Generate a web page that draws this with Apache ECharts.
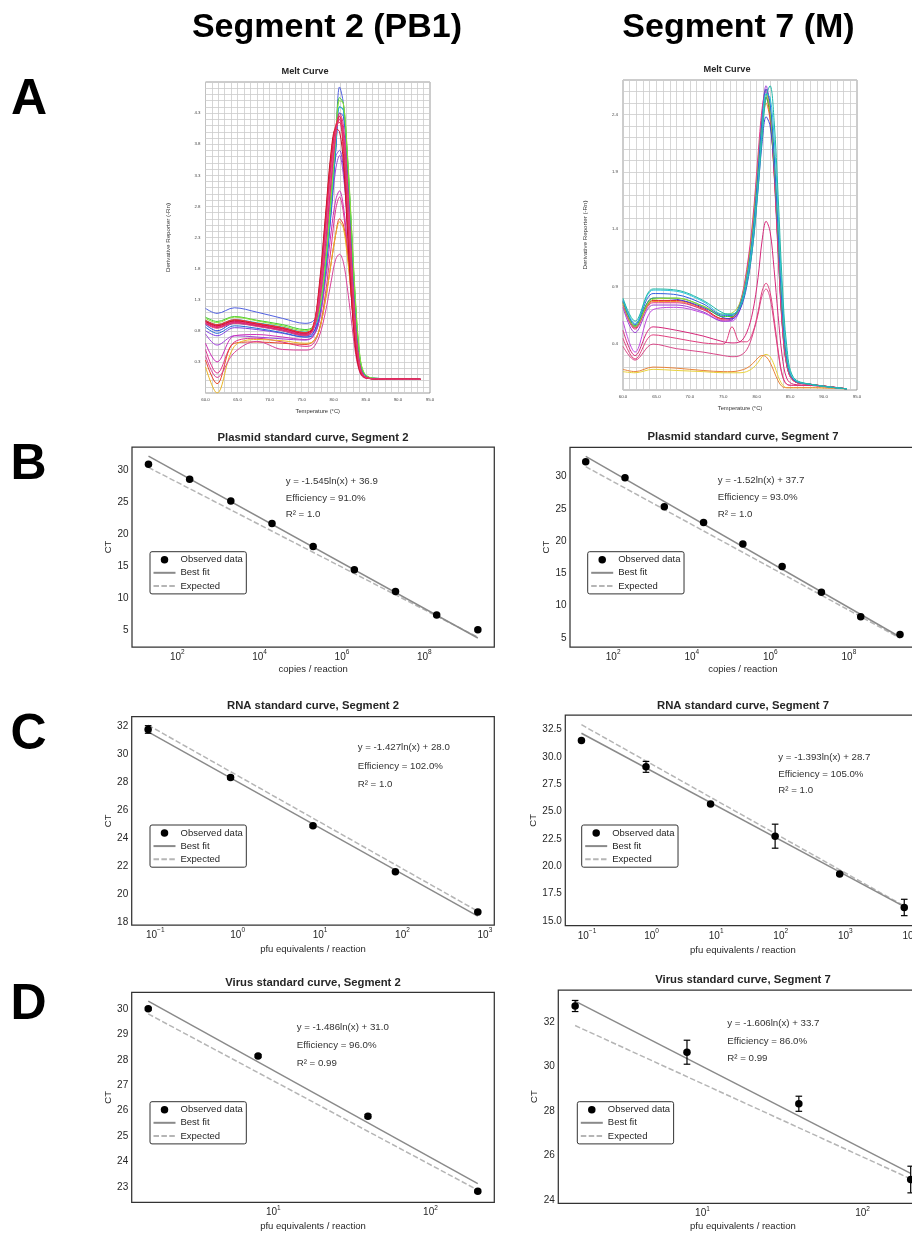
<!DOCTYPE html>
<html><head><meta charset="utf-8">
<script src="https://cdn.jsdelivr.net/npm/echarts@6/dist/echarts.min.js"></script>
<style>html,body{margin:0;padding:0;background:#fff}#c{width:912px;height:1233px}</style>
</head><body><div id="c"></div>
<script>
// ---------------- DATA ----------------
// Melt curves, Segment 2 (PB1)
const meltTempPB1 = [60, 61.8, 64.5, 68, 72, 75.5, 76.7, 77.7, 78.7, 79.6, 80.3, 80.9, 81.5, 82.1, 82.7, 83.3, 83.9, 84.6, 86, 93.5];
const meltCurvesPB1 = [
  [0.80,0.72,0.85,0.82,0.76,0.70,0.74,1.10,2.00,3.00,3.60,3.70,3.40,2.60,1.70,0.80,0.30,0.08,0.03,0.02],
  [0.75,0.57,0.72,0.70,0.67,0.65,0.70,1.00,1.80,2.70,3.40,3.62,3.30,2.60,1.70,0.85,0.30,0.08,0.03,0.02],
  [1.16,1.08,1.17,1.10,1.00,0.92,0.95,1.10,1.85,2.90,3.90,4.72,4.45,3.50,2.30,1.20,0.45,0.12,0.04,0.02],
  [0.90,0.80,0.92,0.88,0.80,0.72,0.76,1.00,1.75,2.80,3.70,4.30,4.25,3.50,2.40,1.30,0.50,0.12,0.03,0.02],
  [0.86,0.76,0.88,0.84,0.77,0.70,0.72,0.95,1.70,2.75,3.70,4.40,4.35,3.60,2.50,1.35,0.50,0.12,0.03,0.02],
  [0.97,0.90,0.98,0.93,0.86,0.78,0.82,1.05,1.80,2.85,3.80,4.40,4.35,3.60,2.50,1.35,0.52,0.13,0.04,0.02],
  [1.02,0.95,1.03,0.97,0.90,0.82,0.86,1.10,1.90,3.00,3.95,4.55,4.45,3.65,2.55,1.40,0.55,0.14,0.04,0.02],
  [1.00,0.93,1.02,0.96,0.88,0.80,0.85,1.10,1.90,2.95,3.90,4.50,4.45,3.70,2.60,1.45,0.58,0.15,0.04,0.02],
  [0.60,0.30,0.72,0.74,0.70,0.66,0.70,0.95,1.60,2.40,2.90,3.05,2.80,2.20,1.40,0.70,0.25,0.07,0.03,0.02],
  [0.50,0.12,0.62,0.68,0.62,0.55,0.58,0.80,1.40,2.15,2.75,2.95,2.70,2.10,1.40,0.70,0.25,0.07,0.03,0.02],
  [0.33,-0.05,0.60,0.62,0.60,0.58,0.62,0.80,1.30,1.90,2.35,2.60,2.50,2.10,1.50,0.80,0.30,0.08,0.03,0.02],
  [0.22,-0.20,0.55,0.66,0.64,0.60,0.62,0.80,1.30,1.90,2.35,2.55,2.45,2.00,1.40,0.75,0.28,0.08,0.03,0.02],
  [0.40,0.05,0.45,0.63,0.50,0.49,0.52,0.70,1.10,1.60,1.95,2.03,1.90,1.50,1.00,0.50,0.18,0.05,0.03,0.02],
  [0.94,0.87,0.95,0.90,0.83,0.75,0.81,1.25,2.20,3.25,3.95,4.25,4.00,3.10,2.00,0.95,0.33,0.09,0.03,0.02],
  [0.93,0.86,0.94,0.89,0.82,0.74,0.80,1.20,2.15,3.20,3.95,4.30,4.10,3.25,2.10,1.00,0.35,0.09,0.03,0.02],
  [0.96,0.89,0.97,0.92,0.85,0.77,0.84,1.45,2.60,3.65,4.10,4.15,3.65,2.55,1.45,0.62,0.22,0.07,0.03,0.02],
  [0.95,0.88,0.96,0.91,0.84,0.76,0.83,1.50,2.65,3.70,4.05,4.00,3.50,2.45,1.40,0.60,0.20,0.06,0.03,0.02],
  [0.97,0.90,0.98,0.92,0.85,0.77,0.85,1.40,2.50,3.55,4.10,4.25,3.80,2.75,1.65,0.75,0.26,0.07,0.03,0.02],
  [0.92,0.85,0.93,0.88,0.81,0.73,0.80,1.35,2.45,3.50,4.05,4.20,3.85,2.90,1.80,0.85,0.30,0.08,0.03,0.02],
  [0.91,0.84,0.92,0.87,0.80,0.72,0.79,1.30,2.35,3.40,4.00,4.20,3.90,3.00,1.90,0.90,0.32,0.08,0.03,0.02]
];
// Melt curves, Segment 7 (M)
const meltTempM = [60, 61.8, 64.5, 68, 72, 75, 76.3, 77.5, 78.5, 79.4, 80.2, 80.8, 81.4, 82, 82.6, 83.2, 83.8, 84.5, 85.5, 88, 93.5];
const meltCurvesM = [
  [0.16,0.15,0.18,0.17,0.16,0.15,0.15,0.15,0.16,0.19,0.24,0.29,0.31,0.29,0.22,0.12,0.05,0.02,0.02,0.02,0.01],
  [0.18,0.16,0.20,0.19,0.17,0.16,0.16,0.17,0.19,0.23,0.28,0.30,0.29,0.24,0.16,0.08,0.03,0.02,0.02,0.02,0.01],
  [0.38,0.26,0.40,0.36,0.33,0.30,0.29,0.30,0.35,0.48,0.66,0.82,0.88,0.80,0.58,0.33,0.13,0.05,0.04,0.04,0.01],
  [0.45,0.27,0.48,0.45,0.41,0.40,0.55,0.42,0.42,0.50,0.68,0.86,0.93,0.85,0.62,0.35,0.14,0.05,0.04,0.04,0.01],
  [0.52,0.30,0.55,0.52,0.47,0.42,0.41,0.42,0.50,0.68,0.98,1.30,1.47,1.38,1.05,0.65,0.30,0.10,0.05,0.04,0.01],
  [0.60,0.33,0.70,0.72,0.67,0.60,0.60,0.70,0.95,1.35,1.90,2.35,2.60,2.42,1.90,1.20,0.58,0.21,0.08,0.05,0.01],
  [0.72,0.50,0.74,0.74,0.68,0.60,0.61,0.73,1.00,1.42,1.98,2.40,2.65,2.45,1.95,1.25,0.60,0.22,0.08,0.05,0.01],
  [0.75,0.55,0.77,0.77,0.70,0.62,0.63,0.74,1.00,1.40,1.90,2.30,2.50,2.35,1.90,1.25,0.62,0.23,0.08,0.05,0.01],
  [0.76,0.54,0.78,0.78,0.71,0.62,0.63,0.75,1.02,1.42,1.95,2.35,2.55,2.38,1.92,1.25,0.60,0.22,0.08,0.05,0.01],
  [0.74,0.53,0.76,0.76,0.70,0.61,0.62,0.76,1.05,1.48,2.05,2.45,2.62,2.40,1.88,1.20,0.57,0.21,0.08,0.05,0.01],
  [0.77,0.55,0.80,0.79,0.72,0.63,0.62,0.70,0.90,1.25,1.75,2.15,2.38,2.30,1.95,1.35,0.70,0.26,0.09,0.05,0.01],
  [0.77,0.56,0.80,0.80,0.73,0.64,0.64,0.73,0.98,1.38,1.90,2.30,2.55,2.42,2.00,1.35,0.70,0.26,0.09,0.05,0.01],
  [0.76,0.55,0.79,0.80,0.73,0.66,0.67,0.76,1.00,1.40,1.95,2.35,2.58,2.45,2.02,1.38,0.70,0.26,0.09,0.05,0.01],
  [0.78,0.57,0.84,0.83,0.75,0.65,0.65,0.74,0.97,1.35,1.90,2.35,2.62,2.50,2.05,1.40,0.72,0.27,0.09,0.05,0.01],
  [0.79,0.58,0.87,0.86,0.77,0.66,0.66,0.73,0.95,1.30,1.80,2.25,2.58,2.55,2.20,1.55,0.85,0.32,0.10,0.05,0.01],
  [0.80,0.60,0.88,0.87,0.78,0.67,0.66,0.72,0.92,1.25,1.75,2.20,2.55,2.65,2.35,1.70,0.95,0.38,0.11,0.05,0.01]
];
// B: plasmid standard curves
const plasmidCopies = [2e1, 2e2, 2e3, 2e4, 2e5, 2e6, 2e7, 2e8, 2e9];
const plasmidCtPB1 = [31.0, 28.65, 25.26, 21.72, 18.13, 14.48, 11.1, 7.4, 5.1];
const plasmidFitPB1 = [32.27, 3.81];
const plasmidExpPB1 = [30.5, 3.93];
const plasmidCtM = [32.32, 29.85, 25.32, 22.89, 19.55, 16.09, 12.07, 8.27, 5.53];
const plasmidFitM = [33.15, 5.15];
const plasmidExpM = [31.55, 4.98];
// C: RNA standard curves
const rnaPfuPB1 = [0.082, 0.82, 8.2, 82, 820];
const rnaCtPB1 = [31.74, 28.32, 24.87, 21.6, 18.73];
const rnaErrPB1 = [0.27, 0.12, 0.1, 0.05, 0.05];
const rnaFitPB1 = [31.57, 18.43];
const rnaExpPB1 = [32.05, 18.78];
const rnaPfuM = [0.082, 0.82, 8.2, 82, 820, 8200];
const rnaCtM = [31.52, 29.1, 25.69, 22.75, 19.28, 16.22];
const rnaErrM = [0.05, 0.5, 0.08, 1.1, 0.1, 0.75];
const rnaFitM = [32.18, 16.3];
const rnaExpM = [32.96, 16.35];
// D: virus standard curves
const virusPfu = [1.6, 8, 40, 200];
const virusCtPB1 = [30.0, 28.15, 25.78, 22.83];
const virusErrPB1 = [0.05, 0.05, 0.07, 0.05];
const virusFitPB1 = [30.3, 23.13];
const virusExpPB1 = [29.8, 22.88];
const virusCtM = [32.73, 30.65, 28.33, 24.92];
const virusErrM = [0.25, 0.54, 0.34, 0.6];
const virusFitM = [32.95, 25.2];
const virusExpM = [31.85, 24.95];
// Text
const headers = ['Segment 2 (PB1)', 'Segment 7 (M)'];
const panelLetters = ['A', 'B', 'C', 'D'];
const legendNames = ['Observed data', 'Best fit', 'Expected'];
const notesPlasmidPB1 = ['y = -1.545ln(x) + 36.9', 'Efficiency = 91.0%', 'R\u00b2 = 1.0'];
const notesPlasmidM = ['y = -1.52ln(x) + 37.7', 'Efficiency = 93.0%', 'R\u00b2 = 1.0'];
const notesRnaPB1 = ['y = -1.427ln(x) + 28.0', 'Efficiency = 102.0%', 'R\u00b2 = 1.0'];
const notesRnaM = ['y = -1.393ln(x) + 28.7', 'Efficiency = 105.0%', 'R\u00b2 = 1.0'];
const notesVirusPB1 = ['y = -1.486ln(x) + 31.0', 'Efficiency = 96.0%', 'R\u00b2 = 0.99'];
const notesVirusM = ['y = -1.606ln(x) + 33.7', 'Efficiency = 86.0%', 'R\u00b2 = 0.99'];

// ---------------- STYLE / LAYOUT ----------------
const FONT = '"Liberation Sans", Arial, Helvetica, sans-serif';
const TXT = '#262626';
const meltColorsPB1 = ['#7b3fe0','#a044d8','#5060e0','#2848e0','#1f6ad8','#22bfd0','#3ccf2e','#8fdc3c','#cc2fb8','#e0338f','#e8452a','#e9b524','#d9439a','#e8178a','#e62a7a','#e0202a','#c8102e','#f0323c','#d81b60','#e0407a'];
const meltColorsM = ['#e8d23a','#e8843a','#d94a8a','#e0407f','#d6287a','#c04be0','#9b3fd6','#f08a24','#e0242a','#e63a8a','#3b3fd9','#2fc43a','#9ad83a','#2f5fe0','#2cc6de','#20b8a8'];

function fmtLog(even) {
  return function (v) {
    const e = Math.log10(v), r = Math.round(e);
    if (Math.abs(e - r) > 1e-4) return '';
    if (even && r % 2 !== 0) return '';
    return '{b|10}{s|' + (r < 0 ? '\u2212' + (-r) : r) + '}';
  };
}
function fmtStep(step, dec, offset) {
  offset = offset || 0;
  return function (v) {
    const q = (v - offset) / step;
    if (Math.abs(q - Math.round(q)) > 1e-6) return '';
    return v.toFixed(dec);
  };
}

const grids = [], xAxes = [], yAxes = [], series = [], legends = [], graphics = [];

function addText(x, y, text, size, weight, align, color) {
  graphics.push({type: 'text', x: x, y: y, silent: true, style: {
    text: text, fontSize: size, fontWeight: weight || 'normal', fontFamily: FONT,
    fill: color || TXT, align: align || 'center', verticalAlign: 'middle',
    textAlign: align || 'center', textVerticalAlign: 'middle'}});
}

// ---- Melt panels ----
function meltPanel(g, temps, curves, colors, yMin, yMax, labelOffset, title, titleX, titleY, nameGapY) {
  const idx = grids.length;
  grids.push({left: g[0], top: g[1], width: g[2], height: g[3], show: true, borderColor: '#808080', borderWidth: 0.8, backgroundColor: '#fff', outerBoundsMode: 'none'});
  xAxes.push({type: 'value', gridIndex: idx, min: 60, max: 95, interval: 1,
    name: 'Temperature (\u00b0C)', nameLocation: 'middle', nameGap: 15.5,
    nameTextStyle: {fontSize: 5.8, fontFamily: FONT, color: '#333'},
    axisLine: {show: false}, axisTick: {show: false},
    axisLabel: {fontSize: 4.4, fontFamily: FONT, color: '#444', margin: 4.5, formatter: fmtStep(5, 1)},
    splitLine: {show: true, lineStyle: {color: '#cbcbcb', width: 0.8}}});
  yAxes.push({type: 'value', gridIndex: idx, min: yMin, max: yMax, interval: 0.1,
    name: 'Derivative Reporter (-Rn)', nameLocation: 'middle', nameGap: nameGapY,
    nameTextStyle: {fontSize: 6.2, fontFamily: FONT, color: '#333'},
    axisLine: {show: false}, axisTick: {show: false},
    axisLabel: {fontSize: 4.4, fontFamily: FONT, color: '#444', margin: 5, showMinLabel: false, showMaxLabel: false,
      formatter: fmtStep(0.5, 1, labelOffset)},
    splitLine: {show: true, lineStyle: {color: '#cbcbcb', width: 0.8}}});
  curves.forEach(function (c, k) {
    series.push({type: 'line', name: 'melt' + idx + '_' + k, xAxisIndex: idx, yAxisIndex: idx,
      data: temps.map(function (t, i) { return [t, c[i]]; }),
      smooth: 0.35, symbol: 'none', silent: true, clip: true,
      lineStyle: {width: 1, color: colors[k]}, z: 2});
  });
  addText(titleX, titleY, title, 9.2, 'bold');
}
meltPanel([205.5, 82, 224.5, 311], meltTempPB1, meltCurvesPB1, meltColorsPB1, -0.2, 4.8, 0.3, 'Melt Curve', 305, 71, 34);
meltPanel([623, 80, 234, 310], meltTempM, meltCurvesM, meltColorsM, 0, 2.7, 0.4, 'Melt Curve', 727, 69.5, 35);

// ---- Standard curve panels ----
function stdPanel(p) {
  const idx = grids.length;
  const g = p.grid;
  grids.push({left: g[0], top: g[1], width: g[2], height: g[3], show: true, borderColor: '#333', borderWidth: 1.25, backgroundColor: '#fff', outerBoundsMode: 'none'});
  xAxes.push({type: 'log', logBase: 10, gridIndex: idx, min: p.xMin, max: p.xMax,
    name: p.xName, nameLocation: 'middle', nameGap: p.xNameGap,
    nameTextStyle: {fontSize: 9.5, fontFamily: FONT, color: TXT},
    axisLine: {show: false}, axisTick: {show: false}, splitLine: {show: false}, minorTick: {show: false},
    axisLabel: {margin: 2.2, formatter: fmtLog(p.evenLog), fontFamily: FONT, color: TXT,
      rich: {b: {fontSize: 10, lineHeight: 16, fontFamily: FONT, color: TXT},
             s: {fontSize: 6.5, lineHeight: 6, verticalAlign: 'top', fontFamily: FONT, color: TXT}}}});
  yAxes.push({type: 'value', gridIndex: idx, min: p.yMin, max: p.yMax, interval: 0.05,
    name: 'CT', nameLocation: 'middle', nameGap: p.yNameGap,
    nameTextStyle: {fontSize: 9.5, fontFamily: FONT, color: TXT},
    axisLine: {show: false}, axisTick: {show: false}, splitLine: {show: false},
    axisLabel: {fontSize: 10, fontFamily: FONT, color: TXT, margin: 3.5, formatter: fmtStep(p.yStep, p.yDec)}});
  const x0 = p.x[0], x1 = p.x[p.x.length - 1];
  series.push({type: 'line', name: 'Expected', xAxisIndex: idx, yAxisIndex: idx,
    data: [[x0, p.exp[0]], [x1, p.exp[1]]], symbol: 'none', silent: true,
    itemStyle: {color: 'rgba(0,0,0,0)'},
    lineStyle: {color: '#b5b5b5', width: 1.5, type: [5.5, 2.4]}, z: 2});
  series.push({type: 'line', name: 'Best fit', xAxisIndex: idx, yAxisIndex: idx,
    data: [[x0, p.fit[0]], [x1, p.fit[1]]], symbol: 'none', silent: true,
    itemStyle: {color: 'rgba(0,0,0,0)'},
    lineStyle: {color: '#8a8a8a', width: 1.5}, z: 3});
  if (p.err) {
    series.push({type: 'custom', name: 'err' + idx, xAxisIndex: idx, yAxisIndex: idx, silent: true, z: 4,
      data: p.x.map(function (x, i) { return [x, p.y[i] - p.err[i], p.y[i] + p.err[i]]; }),
      encode: {x: 0, y: [1, 2]},
      renderItem: function (params, api) {
        const x = api.value(0);
        const a = api.coord([x, api.value(1)]), b = api.coord([x, api.value(2)]);
        const w = 3.3, st = {stroke: '#000', lineWidth: 1.2};
        return {type: 'group', children: [
          {type: 'line', shape: {x1: a[0], y1: a[1], x2: b[0], y2: b[1]}, style: st},
          {type: 'line', shape: {x1: a[0] - w, y1: a[1], x2: a[0] + w, y2: a[1]}, style: st},
          {type: 'line', shape: {x1: b[0] - w, y1: b[1], x2: b[0] + w, y2: b[1]}, style: st}]};
      }});
  }
  series.push({type: 'scatter', name: 'Observed data', xAxisIndex: idx, yAxisIndex: idx,
    data: p.x.map(function (x, i) { return [x, p.y[i]]; }), symbol: 'circle', symbolSize: 7.5,
    itemStyle: {color: '#000', opacity: 1}, silent: true, z: 5});
  legends.push({show: true,
    data: [{name: legendNames[0]},
           {name: legendNames[1], itemStyle: {opacity: 0, color: 'rgba(0,0,0,0)'}},
           {name: legendNames[2], itemStyle: {opacity: 0, color: 'rgba(0,0,0,0)'}}],
    left: p.legend[0], top: p.legend[1], orient: 'vertical',
    itemWidth: 22, itemHeight: 7.5, itemGap: 3.1, padding: [3, 3.5, 3, 2.5],
    backgroundColor: '#fff', borderColor: '#333', borderWidth: 1, borderRadius: 2,
    selectedMode: false,
    textStyle: {fontSize: 9.5, lineHeight: 10, fontFamily: FONT, color: TXT}});
  addText(p.titlePos[0], p.titlePos[1], p.title, 11.3, 'bold');
  p.notes.forEach(function (t, i) { addText(p.notePos[0], p.notePos[1][i], t, 9.7, 'normal', 'left', '#333'); });
}

stdPanel({grid: [132, 447, 362.3, 200], xMin: 7.96, xMax: 5.02e9, yMin: 2.4, yMax: 33.7, yStep: 5, yDec: 0, evenLog: true,
  x: plasmidCopies, y: plasmidCtPB1, err: null, fit: plasmidFitPB1, exp: plasmidExpPB1,
  xName: 'copies / reaction', xNameGap: 17, yNameGap: 15, legend: [150, 551.7],
  title: 'Plasmid standard curve, Segment 2', titlePos: [313, 437.7],
  notes: notesPlasmidPB1, notePos: [285.7, [481.7, 498.3, 514.3]]});
stdPanel({grid: [570, 447.3, 345.7, 199.7], xMin: 7.96, xMax: 5.02e9, yMin: 3.6, yMax: 34.55, yStep: 5, yDec: 0, evenLog: true,
  x: plasmidCopies, y: plasmidCtM, err: null, fit: plasmidFitM, exp: plasmidExpM,
  xName: 'copies / reaction', xNameGap: 17, yNameGap: 13, legend: [587.7, 551.7],
  title: 'Plasmid standard curve, Segment 7', titlePos: [743, 437.3],
  notes: notesPlasmidM, notePos: [717.7, [480, 497, 514.3]]});
stdPanel({grid: [131.7, 716.7, 362.6, 208.3], xMin: 0.0518, xMax: 1300, yMin: 17.8, yMax: 32.65, yStep: 2, yDec: 0, evenLog: false,
  x: rnaPfuPB1, y: rnaCtPB1, err: rnaErrPB1, fit: rnaFitPB1, exp: rnaExpPB1,
  xName: 'pfu equivalents / reaction', xNameGap: 19, yNameGap: 16.5, legend: [150, 825],
  title: 'RNA standard curve, Segment 2', titlePos: [313, 706],
  notes: notesRnaPB1, notePos: [357.7, [747.7, 766, 784.3]]});
stdPanel({grid: [565.3, 715, 355.1, 210.7], xMin: 0.0461, xMax: 14590, yMin: 14.55, yMax: 33.85, yStep: 2.5, yDec: 1, evenLog: false,
  x: rnaPfuM, y: rnaCtM, err: rnaErrM, fit: rnaFitM, exp: rnaExpM,
  xName: 'pfu equivalents / reaction', xNameGap: 19.5, yNameGap: 25.5, legend: [581.7, 825],
  title: 'RNA standard curve, Segment 7', titlePos: [743, 706],
  notes: notesRnaM, notePos: [778.3, [757.7, 774.3, 790.7]]});
stdPanel({grid: [131.7, 992.3, 362.6, 210], xMin: 1.256, xMax: 254.7, yMin: 22.4, yMax: 30.65, yStep: 1, yDec: 0, evenLog: false,
  x: virusPfu, y: virusCtPB1, err: virusErrPB1, fit: virusFitPB1, exp: virusExpPB1,
  xName: 'pfu equivalents / reaction', xNameGap: 19.5, yNameGap: 17, legend: [150, 1101.7],
  title: 'Virus standard curve, Segment 2', titlePos: [313, 982.7],
  notes: notesVirusPB1, notePos: [296.7, [1027.7, 1045.7, 1063.3]]});
stdPanel({grid: [558.3, 990, 369.2, 213.3], xMin: 1.256, xMax: 254.7, yMin: 23.85, yMax: 33.45, yStep: 2, yDec: 0, evenLog: false,
  x: virusPfu, y: virusCtM, err: virusErrM, fit: virusFitM, exp: virusExpM,
  xName: 'pfu equivalents / reaction', xNameGap: 18, yNameGap: 18, legend: [577.3, 1101.7],
  title: 'Virus standard curve, Segment 7', titlePos: [743, 980],
  notes: notesVirusM, notePos: [727.3, [1023.3, 1041, 1058.7]]});

// Headers and panel letters
addText(327, 28, headers[0], 34, 'bold', 'center', '#000');
addText(738.5, 28, headers[1], 34, 'bold', 'center', '#000');
[[29, 100], [28.5, 465], [28.5, 735], [28.5, 1005]].forEach(function (pos, i) {
  addText(pos[0], pos[1], panelLetters[i], 50, 'bold', 'center', '#000');
});

const chart = echarts.init(document.getElementById('c'), null, {renderer: 'canvas', width: 912, height: 1233});
chart.setOption({
  animation: false,
  backgroundColor: '#fff',
  textStyle: {fontFamily: FONT},
  grid: grids, xAxis: xAxes, yAxis: yAxes, series: series, legend: legends, graphic: graphics
});
</script>
</body></html>
